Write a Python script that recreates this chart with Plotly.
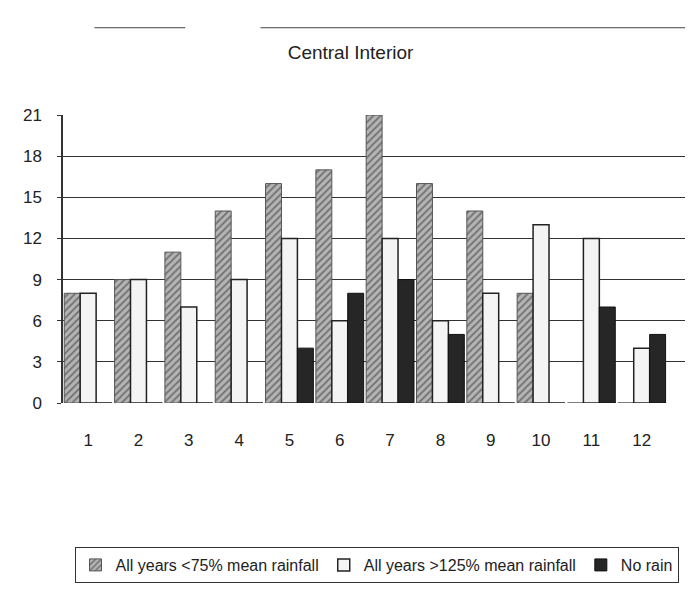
import plotly.graph_objects as go

months = [str(i) for i in range(1, 13)]
below75 = [8, 9, 11, 14, 16, 17, 21, 16, 14, 8, 0, 0]
above125 = [8, 9, 7, 9, 12, 6, 12, 6, 8, 13, 12, 4]
no_rain = [0, 0, 0, 0, 4, 8, 9, 5, 0, 0, 7, 5]
yticks = [0, 3, 6, 9, 12, 15, 18, 21]

fig = go.Figure()
fig.add_trace(go.Bar(
    x=months, y=below75, name="All years <75% mean rainfall",
    marker=dict(color="#9a9a9a", line=dict(color="#555", width=1),
                pattern=dict(shape="/", fgcolor="#333", bgcolor="#b5b5b5", size=5, solidity=0.4)),
))
fig.add_trace(go.Bar(
    x=months, y=above125, name="All years >125% mean rainfall",
    marker=dict(color="#f4f4f4", line=dict(color="#222", width=1.5)),
))
fig.add_trace(go.Bar(
    x=months, y=no_rain, name="No rain",
    marker=dict(color="#262626", line=dict(color="#111", width=1)),
))

# page body has an 8px margin, so the figure is sized to the visible area
fig.update_layout(
    width=685, height=586,
    paper_bgcolor="#ffffff", plot_bgcolor="#ffffff",
    margin=dict(l=55, r=3, t=107, b=191, autoexpand=False),
    barmode="group", bargap=0.05, bargroupgap=0.0,
    font=dict(family="Liberation Sans, Arial, sans-serif", size=17, color="#222"),
    title=dict(text="Central Interior", x=0.5, xanchor="center", y=0.925, yanchor="middle",
               font=dict(size=19, color="#222")),
    showlegend=True,
    legend=dict(orientation="h", x=0.5, xanchor="center", y=-0.5, yanchor="top",
                bordercolor="#333", borderwidth=1, font=dict(size=16),
                itemwidth=30, tracegroupgap=0),
    shapes=[
        dict(type="line", xref="paper", yref="paper", x0=0.05, x1=0.195, y0=1.303, y1=1.303,
             line=dict(color="#444", width=1)),
        dict(type="line", xref="paper", yref="paper", x0=0.315, x1=1.0, y0=1.303, y1=1.303,
             line=dict(color="#444", width=1)),
    ],
)
fig.update_xaxes(
    type="category", range=[-0.5, 11.96], showgrid=False, showline=False,
    ticks="outside", ticklen=22, tickcolor="rgba(0,0,0,0)", tickfont=dict(size=17),
)
fig.update_yaxes(
    range=[0, 21], tickvals=yticks, showgrid=True, gridcolor="#333", gridwidth=1.2,
    showline=True, linecolor="#333", linewidth=1.5, zeroline=False,
    ticks="outside", ticklen=4, tickcolor="#333", tickfont=dict(size=17),
    ticklabelstandoff=12,
)

fig.write_html("out.html")
